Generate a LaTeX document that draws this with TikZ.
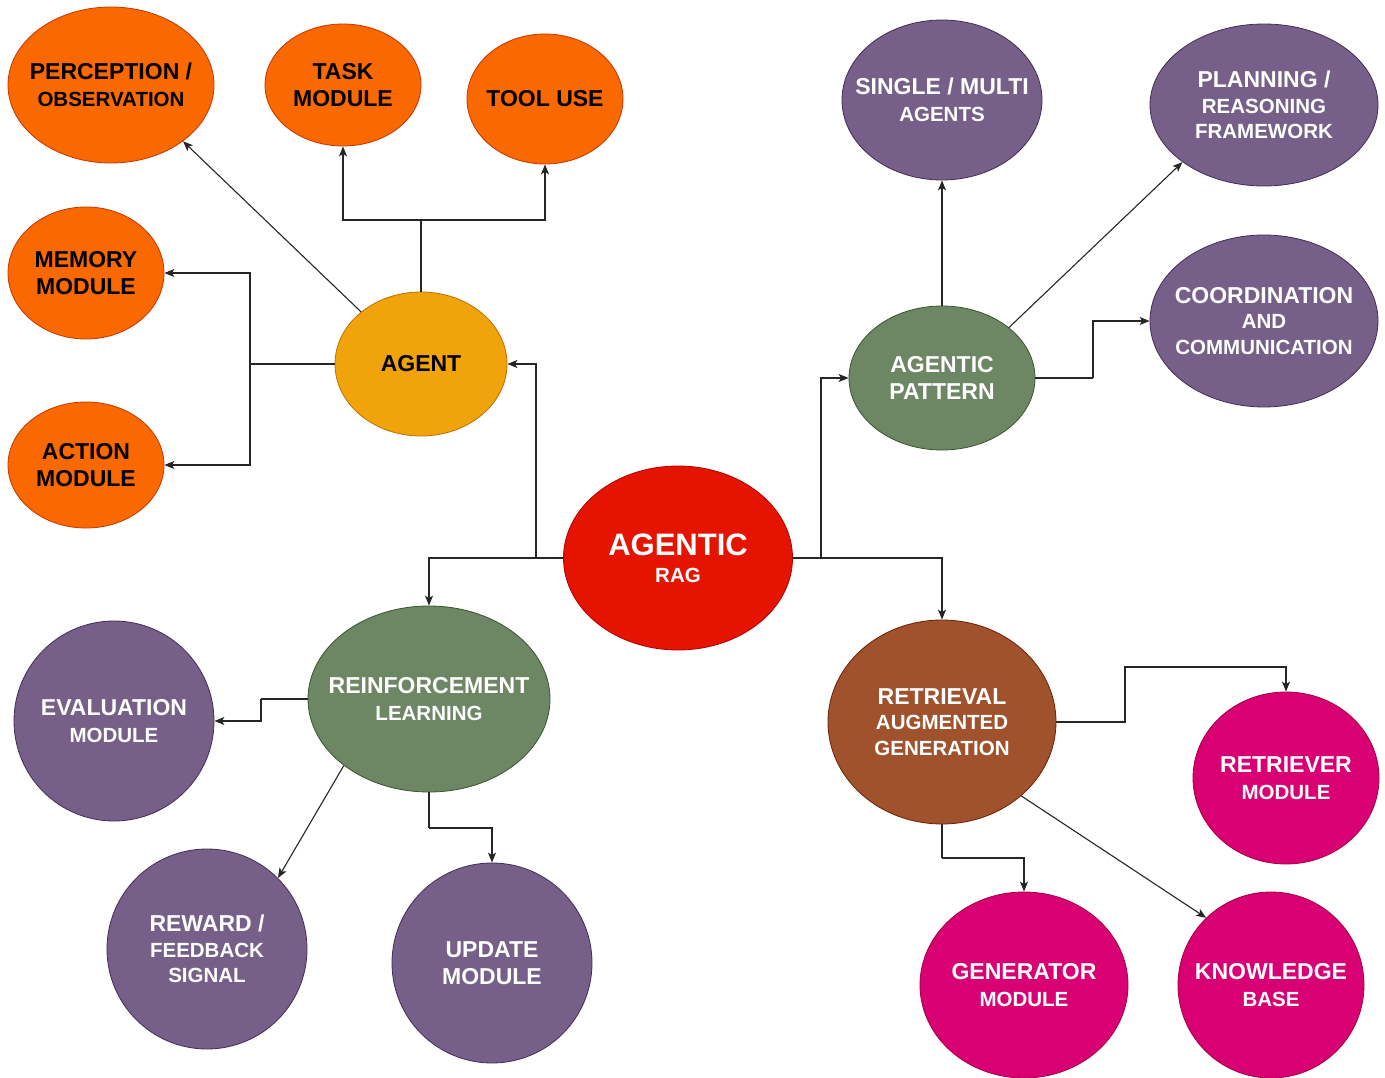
\documentclass[tikz,border=0pt]{standalone}
\usepackage{fontspec}
\setmainfont{Liberation Sans}
\usetikzlibrary{arrows.meta,shapes.geometric}
\definecolor{cOrange}{HTML}{FA6800}\definecolor{sOrange}{HTML}{C73500}
\definecolor{cYellow}{HTML}{F0A30A}\definecolor{sYellow}{HTML}{BD7000}
\definecolor{cRed}{HTML}{E51400}\definecolor{sRed}{HTML}{B20000}
\definecolor{cPurple}{HTML}{76608A}\definecolor{sPurple}{HTML}{432D57}
\definecolor{cGreen}{HTML}{6D8764}\definecolor{sGreen}{HTML}{3A5431}
\definecolor{cBrown}{HTML}{A0522D}\definecolor{sBrown}{HTML}{6D1F00}
\definecolor{cMag}{HTML}{D80073}\definecolor{sMag}{HTML}{A50040}
\newcommand{\lnS}[1]{{\fontsize{20.5}{27}\selectfont #1}}
\begin{document}
\begin{tikzpicture}[x=1pt,y=-1pt,
  bub/.style={ellipse, draw, line width=0.8pt, inner ysep=0pt, inner xsep=-50pt, align=center,
    font=\fontsize{23}{27}\selectfont\bfseries},
  orng/.style={bub, fill=cOrange, draw=sOrange, text=black},
  yel/.style={bub, fill=cYellow, draw=sYellow, text=black},
  redb/.style={bub, fill=cRed, draw=sRed, text=white},
  purp/.style={bub, fill=cPurple, draw=sPurple, text=white},
  grn/.style={bub, fill=cGreen, draw=sGreen, text=white},
  brn/.style={bub, fill=cBrown, draw=sBrown, text=white},
  mag/.style={bub, fill=cMag, draw=sMag, text=white},
  tight/.style={font=\fontsize{23}{25.5}\selectfont\bfseries},
  sz/.style n args={2}{minimum width=#1pt, minimum height=#2pt},
  conn/.style={draw=black!85, line width=1.1pt},
  arr/.style={conn, -{Stealth[length=10pt,width=8pt,inset=2.5pt]}}]
\useasboundingbox (0,0) rectangle (1385,1078);
\fill[white] (0,0) rectangle (1385,1078);

% nodes
\node[orng, sz={206}{156}] (perc) at (111,85) {PERCEPTION /\\\lnS{OBSERVATION}};
\node[orng, sz={156}{122}] (task) at (343,85) {TASK\\MODULE};
\node[orng, sz={156}{130}] (tool) at (545,99) {TOOL USE};
\node[orng, sz={156}{132}] (mem) at (86,273) {MEMORY\\MODULE};
\node[orng, sz={156}{126}] (act) at (86,465) {ACTION\\MODULE};
\node[yel, sz={172}{144}] (agent) at (421,364) {AGENT};
\node[redb, sz={229}{184}] (arag) at (678,558) {\fontsize{31}{27}\selectfont AGENTIC\\\lnS{RAG}};
\node[purp, sz={200}{160}] (single) at (942,100) {SINGLE / MULTI\\\lnS{AGENTS}};
\node[purp, sz={228}{162}, tight] (plan) at (1264,105) {PLANNING /\\{\fontsize{20.5}{25.5}\selectfont REASONING}\\{\fontsize{20.5}{25.5}\selectfont FRAMEWORK}};
\node[purp, sz={228}{172}, tight] (coord) at (1264,321) {COORDINATION\\{\fontsize{20.5}{25.5}\selectfont AND}\\{\fontsize{20.5}{25.5}\selectfont COMMUNICATION}};
\node[grn, sz={186}{144}] (pat) at (942,378) {AGENTIC\\PATTERN};
\node[grn, sz={242}{186}] (rl) at (429,699) {REINFORCEMENT\\\lnS{LEARNING}};
\node[purp, sz={200}{200}] (eval) at (114,721) {EVALUATION\\\lnS{MODULE}};
\node[purp, sz={200}{200}, tight] (rew) at (207,949) {REWARD /\\{\fontsize{20.5}{25.5}\selectfont FEEDBACK}\\{\fontsize{20.5}{25.5}\selectfont SIGNAL}};
\node[purp, sz={200}{200}] (upd) at (492,963) {UPDATE\\MODULE};
\node[brn, sz={228}{204}, tight] (rag) at (942,722) {RETRIEVAL\\{\fontsize{20.5}{25.5}\selectfont AUGMENTED}\\{\fontsize{20.5}{25.5}\selectfont GENERATION}};
\node[mag, sz={186}{172}] (retr) at (1286,778) {RETRIEVER\\\lnS{MODULE}};
\node[mag, sz={208}{186}] (gen) at (1024,985) {GENERATOR\\\lnS{MODULE}};
\node[mag, sz={186}{186}] (kb) at (1271,985) {KNOWLEDGE\\\lnS{BASE}};

% junction coordinates
\coordinate (jtop) at (421,220);
\coordinate (jleft) at (250,364);
\coordinate (jag) at (536,558);
\coordinate (jpat) at (821,558);
\coordinate (jcoord) at (1093,378);
\coordinate (jeval) at (261,699);
\coordinate (jupd) at (429,828);
\coordinate (jretr) at (1125,722);
\coordinate (jretrb) at (1125,667);
\coordinate (jgen) at (942,858);

% connectors
\draw[arr] (agent.139) -- (perc.-38);
\draw[conn] (agent.north) -- (jtop);
\draw[arr] (jtop) -| (task.south);
\draw[arr] (jtop) -| (tool.south);
\draw[conn] (agent.west) -- (jleft);
\draw[arr] (jleft) |- (mem.east);
\draw[arr] (jleft) |- (act.east);

\draw[conn] (arag.west) -- (jag);
\draw[arr] (jag) |- (agent.east);
\draw[arr] (jag) -| (rl.north);
\draw[conn] (arag.east) -- (jpat);
\draw[arr] (jpat) |- (pat.west);
\draw[arr] (jpat) -| (rag.north);

\draw[arr] (pat.north) -- (single.south);
\draw[arr] (pat.37) -- (plan.215);
\draw[conn] (pat.east) -- (jcoord);
\draw[arr] (jcoord) |- (coord.west);

\draw[conn] (rl.west) -- (jeval);
\draw[arr] (jeval) |- (eval.east);
\draw[arr] (rl.218) -- (rew.45);
\draw[conn] (rl.south) -- (jupd);
\draw[arr] (jupd) -| (upd.north);

\draw[arr] (rag.east) -- (jretr) -- (jretrb) -| (retr.north);
\draw[conn] (rag.south) -- (jgen);
\draw[arr] (jgen) -| (gen.north);
\draw[arr] (rag.-43) -- (kb.134);
\end{tikzpicture}
\end{document}
